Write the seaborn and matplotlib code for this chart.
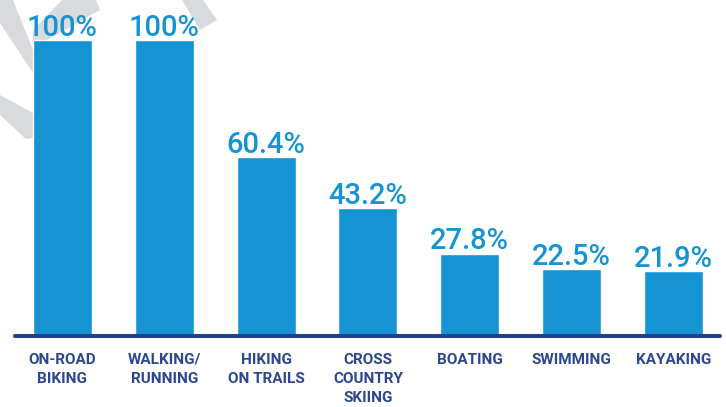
import matplotlib
matplotlib.use("Agg")
import matplotlib.pyplot as plt
from matplotlib.patches import Polygon
import seaborn as sns
import pandas as pd

# data
activities = ["ON-ROAD\nBIKING", "WALKING/\nRUNNING", "HIKING\nON TRAILS",
              "CROSS\nCOUNTRY\nSKIING", "BOATING", "SWIMMING", "KAYAKING"]
shares = [100, 100, 60.4, 43.2, 27.8, 22.5, 21.9]
share_labels = ["100%", "100%", "60.4%", "43.2%", "27.8%", "22.5%", "21.9%"]

df = pd.DataFrame({"activity": activities, "share": shares})

bar_blue = "#1593d3"
navy = "#253f8c"
label_navy = "#2c4690"
mark_grey = "#d9dadc"

sns.set_style("white")

W, H = 726, 407
fig = plt.figure(figsize=(W / 100, H / 100), dpi=100)
ax = fig.add_axes([15 / W, 71 / H, 705 / W, 336 / H])
ax.patch.set_alpha(0)

# grey watermark strokes behind the chart
def px(pts):
    return [(x / W, 1 - y / H) for x, y in pts]

strokes = [
    [(0, 0), (13, 0), (33, 50), (33, 73), (0, 23)],
    [(62, 0), (96, 0), (100, 10), (33, 48), (33, 30)],
    [(0, 95), (33, 113), (33, 138), (26, 139), (0, 115)],
    [(182, 0), (203, 0), (217, 20), (200, 30)],
]
for s in strokes:
    fig.add_artist(Polygon(px(s), closed=True, transform=fig.transFigure,
                           facecolor=mark_grey, edgecolor="none", zorder=-1))

sns.barplot(data=df, x="activity", y="share", color=bar_blue, saturation=1,
            width=0.58, ax=ax, zorder=2)

ax.set_xlim(-0.466, 6.457)
ax.set_ylim(0, 113.5)
ax.axhline(0, color=navy, lw=2.9, zorder=5, clip_on=False)

for i, (v, lab) in enumerate(zip(shares, share_labels)):
    ax.text(i, v + 1.5, lab, ha="center", va="baseline", color=bar_blue,
            fontsize=21, family="Roboto", fontweight="medium", zorder=6)

ax.set_xticks(range(len(activities)))
ax.set_xticklabels(activities, family="Roboto", fontweight="bold",
                   fontsize=11, color=label_navy, linespacing=1.45)
ax.tick_params(axis="x", length=0, pad=12)
ax.tick_params(axis="y", left=False, labelleft=False)
ax.set_xlabel("")
ax.set_ylabel("")
sns.despine(ax=ax, left=True, bottom=True)

fig.savefig("out.png", dpi=100)
